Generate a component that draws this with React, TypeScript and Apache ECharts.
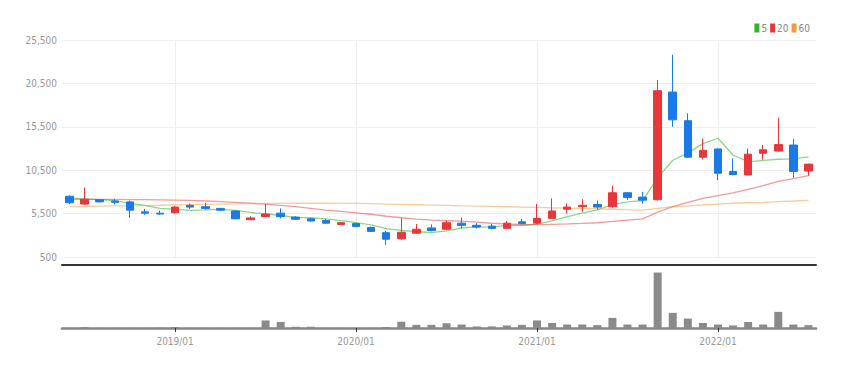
import React, { useEffect, useRef } from "react";
import * as echarts from "echarts";

const months = [
  "2018/06", "2018/07", "2018/08", "2018/09", "2018/10", "2018/11", "2018/12",
  "2019/01", "2019/02", "2019/03", "2019/04", "2019/05", "2019/06", "2019/07", "2019/08", "2019/09", "2019/10", "2019/11", "2019/12",
  "2020/01", "2020/02", "2020/03", "2020/04", "2020/05", "2020/06", "2020/07", "2020/08", "2020/09", "2020/10", "2020/11", "2020/12",
  "2021/01", "2021/02", "2021/03", "2021/04", "2021/05", "2021/06", "2021/07", "2021/08", "2021/09", "2021/10", "2021/11", "2021/12",
  "2022/01", "2022/02", "2022/03", "2022/04", "2022/05", "2022/06", "2022/07",
];

const opens = [
  7500, 6600, 7100, 6950, 6850, 5700, 5550,
  5600, 6450, 6300, 6100, 5800, 4800, 5150, 5550, 5100, 4900, 4700, 4250,
  4350, 3900, 3300, 2600, 3250, 3850, 3700, 4400, 4150, 4050, 3800, 4550,
  4400, 4950, 6000, 6300, 6550, 6300, 7900, 7400, 7100, 19500, 16200, 12000,
  12950, 10350, 9950, 12450, 12700, 13400, 10400,
];
const closes = [
  6750, 7150, 6850, 6800, 5900, 5550, 5450,
  6250, 6250, 6100, 5900, 4900, 5000, 5450, 5150, 4850, 4650, 4400, 4450,
  4000, 3450, 2550, 3350, 3700, 3550, 4450, 4150, 3950, 3800, 4400, 4350,
  4950, 5800, 6250, 6450, 6250, 7900, 7350, 7050, 19650, 16300, 12000, 12800,
  10150, 10000, 12350, 12850, 13450, 10350, 11200,
];
const lows = [
  6600, 6500, 6800, 6550, 5050, 5350, 5350,
  5500, 6050, 5950, 5800, 4850, 4750, 5100, 4950, 4800, 4600, 4300, 4200,
  3950, 3400, 1900, 2500, 3150, 3450, 3600, 3800, 3800, 3700, 3750, 4250,
  4300, 4900, 5500, 5700, 5950, 6200, 7100, 6650, 7000, 15500, 11950, 11750,
  9350, 9900, 9900, 11700, 12650, 9650, 9850,
];
const highs = [
  7600, 8500, 7150, 7200, 7000, 6050, 5850,
  6350, 6650, 6750, 6150, 5850, 5200, 6600, 6100, 5200, 5000, 4900, 4550,
  4450, 4000, 3500, 5000, 4300, 4250, 4700, 5050, 4400, 4300, 4650, 4900,
  6600, 7250, 6700, 7150, 7000, 8700, 7950, 8000, 20900, 23800, 17050, 14150,
  13000, 11850, 13000, 13400, 16550, 14100, 11250,
];

const ma5 = [
  7300, 7200, 7100, 7000, 6690, 6450, 6110,
  5990, 5880, 5920, 5990, 5880, 5630, 5470, 5280, 5070, 5020, 4900, 4700,
  4470, 4190, 3770, 3560, 3410, 3320, 3520, 3840, 3960, 3980, 4150, 4130,
  4290, 4660, 5150, 5560, 5940, 6530, 6840, 7000, 9640, 11650, 12470, 13560,
  14180, 12250, 11460, 11630, 11760, 11800, 12040,
];
const ma20 = [
  7150, 7150, 7150, 7150, 7120, 7100, 7080,
  7060, 7020, 6950, 6880, 6800, 6700, 6600, 6450, 6300, 6100, 5900, 5750,
  5590, 5425, 5195, 5020, 4865, 4748, 4693, 4628, 4513, 4390, 4305, 4228,
  4230, 4270, 4310, 4375, 4445, 4608, 4755, 4885, 5668, 6310, 6783, 7255,
  7578, 7900, 8295, 8730, 9205, 9533, 9873,
];
const ma60 = [
  6300, 6320, 6350, 6380, 6400, 6430, 6460,
  6500, 6530, 6560, 6590, 6620, 6650, 6670, 6680, 6690, 6690, 6690, 6680,
  6670, 6640, 6600, 6560, 6520, 6480, 6440, 6400, 6370, 6330, 6290, 6250,
  6210, 6170, 6130, 6090, 6050, 6000, 5950, 5910, 6100, 6290, 6400, 6490,
  6600, 6690, 6750, 6800, 6880, 6950, 7030,
];

const volumes = [
  0.3, 1.5, 0.3, 0.3, 0.3, 0.3, 0.3,
  1.5, 0.3, 0.3, 0.3, 0.3, 0.3, 12, 9.6, 2, 2, 0.3, 0.3,
  0.3, 0.3, 1.5, 10, 5, 5, 7.5, 5.5, 2.5, 2.5, 4, 5,
  12, 8, 5.5, 5.5, 4.5, 16, 5.5, 5.5, 88, 24, 15, 8,
  5.5, 4, 9.6, 5.5, 25.6, 5.5, 4.5,
];

const yTicks = { min: 500, max: 25500, interval: 5000 };
const legendNames = ["5", "20", "60"];

const FONT = "'Liberation Sans Narrow', 'DejaVu Sans Condensed', 'Roboto', sans-serif";
const isJan = (_i: number, v: string) => typeof v === "string" && v.endsWith("/01");

export default function App() {
  const ref = useRef<HTMLDivElement>(null);
  useEffect(() => {
    if (!ref.current) return;
    const chart = echarts.init(ref.current, undefined, { renderer: "svg" });
    const candleData = months.map((_, i) => [opens[i], closes[i], lows[i], highs[i]]);
    chart.setOption({
      animation: false,
      backgroundColor: "#fff",
      legend: {
        data: legendNames,
        right: 40,
        top: 18,
        icon: "rect",
        itemWidth: 5,
        itemHeight: 9,
        itemGap: 3,
        textStyle: { color: "#888", fontSize: 10, fontFamily: FONT, padding: [0, 0, 0, -3] },
      },
      grid: [
        { left: 62, right: 39, top: 40, bottom: 111 },
        { left: 62, right: 39, top: 265, bottom: 40 },
      ],
      xAxis: [
        {
          type: "category",
          gridIndex: 0,
          data: months,
          boundaryGap: true,
          axisLabel: { show: false },
          axisTick: { show: false },
          offset: 8,
          axisLine: { show: true, lineStyle: { color: "#333", width: 2 } },
          splitLine: {
            show: true,
            interval: isJan,
            alignWithLabel: true,
            lineStyle: { color: "#eee", width: 1 },
          },
        },
        {
          type: "category",
          gridIndex: 1,
          data: months,
          boundaryGap: true,
          axisLine: { show: true, lineStyle: { color: "#858585", width: 2.5 } },
          axisTick: {
            show: true,
            interval: isJan,
            alignWithLabel: true,
            length: 4,
            lineStyle: { color: "#333" },
          },
          axisLabel: {
            interval: isJan,
            color: "#999",
            fontSize: 10,
            fontFamily: FONT,
            margin: 8,
          },
          splitLine: { show: false },
        },
      ],
      yAxis: [
        {
          type: "value",
          gridIndex: 0,
          min: yTicks.min,
          max: yTicks.max,
          interval: yTicks.interval,
          axisLine: { show: false },
          axisTick: { show: false },
          axisLabel: { color: "#999", fontSize: 10, fontFamily: FONT, margin: 5 },
          splitLine: { lineStyle: { color: "#eee" } },
        },
        {
          type: "value",
          gridIndex: 1,
          min: 0,
          max: 100,
          show: false,
          splitLine: { show: false },
        },
      ],
      series: [
        {
          name: "5",
          type: "line",
          data: ma5,
          symbol: "none",
          color: "#2db52d",
          lineStyle: { width: 1.3, opacity: 0.55 },
          z: 2,
        },
        {
          name: "20",
          type: "line",
          data: ma20,
          symbol: "none",
          color: "#e8363a",
          lineStyle: { width: 1.3, opacity: 0.5 },
          z: 2,
        },
        {
          name: "60",
          type: "line",
          data: ma60,
          symbol: "none",
          color: "#f39a3c",
          lineStyle: { width: 1.3, opacity: 0.5 },
          z: 2,
        },
        {
          name: "price",
          type: "candlestick",
          data: candleData,
          barWidth: 8,
          itemStyle: {
            color: "#e8363a",
            color0: "#1a7ae6",
            borderColor: "#e8363a",
            borderColor0: "#1a7ae6",
            borderWidth: 1,
          },
          z: 3,
        },
        {
          name: "volume",
          type: "bar",
          xAxisIndex: 1,
          yAxisIndex: 1,
          data: volumes,
          barWidth: 8,
          itemStyle: { color: "#8a8a8a" },
        },
      ],
    });
    return () => chart.dispose();
  }, []);
  return (
    <div
      ref={ref}
      style={{ position: "absolute", left: 0, top: 0, width: 855, height: 368 }}
    />
  );
}
